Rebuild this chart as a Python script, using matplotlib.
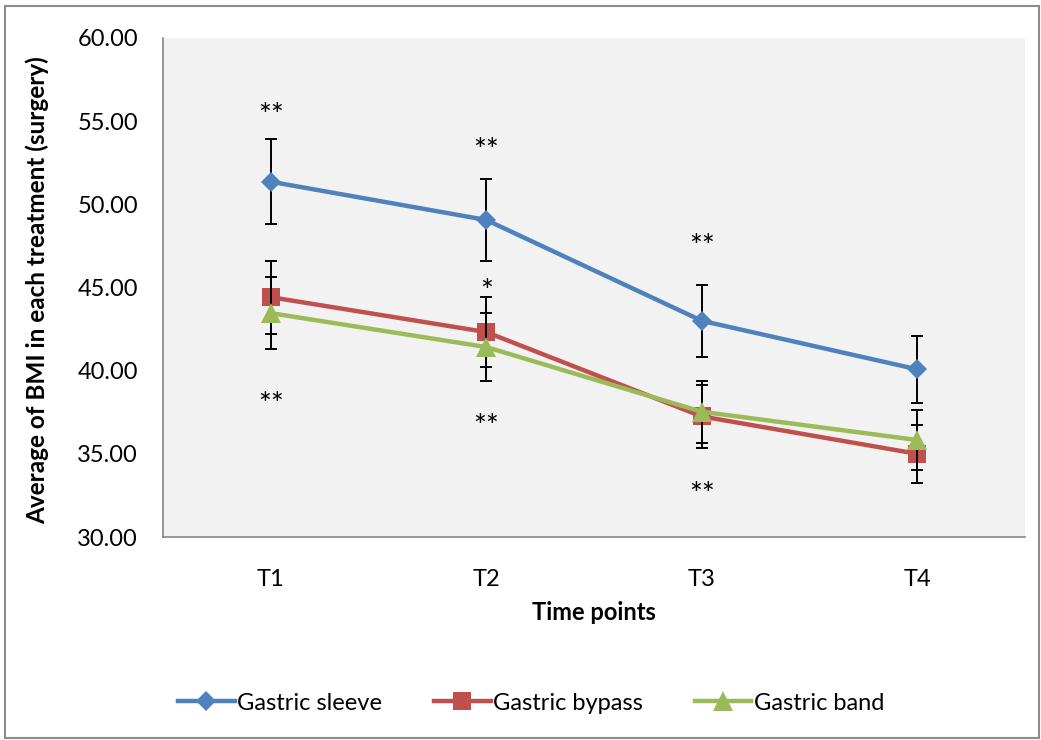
import matplotlib
matplotlib.use("Agg")
import matplotlib.pyplot as plt
from matplotlib.patches import Rectangle

plt.rcParams['font.family'] = ['Lato', 'DejaVu Sans']

time_points = ["T1", "T2", "T3", "T4"]

sleeve_mean = [51.36, 49.06, 43.00, 40.08]
sleeve_err = [2.57, 2.45, 2.16, 2.01]

bypass_mean = [44.42, 42.32, 37.25, 35.00]
bypass_err = [2.20, 2.12, 1.88, 1.74]

band_mean = [43.46, 41.42, 37.53, 35.83]
band_err = [2.18, 2.07, 1.86, 1.80]

# significance marks: (category index, y position, text)
sig_marks = [
    (0, 55.85, "**"), (0, 38.47, "**"),
    (1, 53.75, "**"), (1, 45.27, "*"), (1, 37.15, "**"),
    (2, 47.97, "**"), (2, 33.06, "**"),
]

series = [
    ("Gastric sleeve", sleeve_mean, sleeve_err, "#4F81BD", "D", 10),
    ("Gastric bypass", bypass_mean, bypass_err, "#C0504D", "s", 13),
    ("Gastric band", band_mean, band_err, "#9BBB59", "^", 14),
]

fig = plt.figure(figsize=(10.41, 7.40), dpi=100)
ax = fig.add_axes([163/1041, 1-537/740, (1025-163)/1041, (537-38)/740])
ax.set_facecolor("#F2F2F2")

x = list(range(len(time_points)))
for i, (name, mean, err, color, mk, ms) in enumerate(series):
    ax.errorbar(x, mean, yerr=err, fmt="none", ecolor="black",
                elinewidth=1.4, capsize=4.5, capthick=1.4, zorder=2 + i * 2)
    ax.plot(x, mean, color=color, lw=3.2, marker=mk, markersize=ms,
            markeredgewidth=0, label=name, zorder=3 + i * 2)

for idx, yv, txt in sig_marks:
    ax.text(idx, yv - 0.55, txt, ha="center", va="center", fontsize=22,
            zorder=10)

ax.set_xlim(-0.5, 3.5)
ax.set_ylim(30, 60)
ax.set_yticks([30, 35, 40, 45, 50, 55, 60])
ax.set_yticklabels([f"{v:.2f}" for v in [30, 35, 40, 45, 50, 55, 60]])
ax.set_xticks(x)
ax.set_xticklabels(time_points)
ax.tick_params(axis="both", length=0, labelsize=17)
ax.tick_params(axis="x", pad=23)
ax.tick_params(axis="y", pad=18)

for side in ["top", "right"]:
    ax.spines[side].set_visible(False)
for side in ["left", "bottom"]:
    ax.spines[side].set_color("#868686")
    ax.spines[side].set_linewidth(1.2)

fig.text(37/1041, 1-290/740, "Average of BMI in each treatment (surgery)",
         rotation=90, ha="center", va="center", fontsize=17.5,
         fontweight="bold")
fig.text(594/1041, 1-612/740, "Time points", ha="center", va="center",
         fontsize=17, fontweight="bold")

fig.legend(loc="center", bbox_to_anchor=(531/1041, 1-703/740), ncol=3,
           frameon=False, fontsize=17, handlelength=2.4, handletextpad=0.1,
           columnspacing=2.2)

fig.patches.append(Rectangle((5/1041, 2/740), 1034/1041, 732/740,
                             transform=fig.transFigure, fill=False,
                             edgecolor="#8C8C8C", lw=1.5))

fig.savefig("out.png", dpi=100)
